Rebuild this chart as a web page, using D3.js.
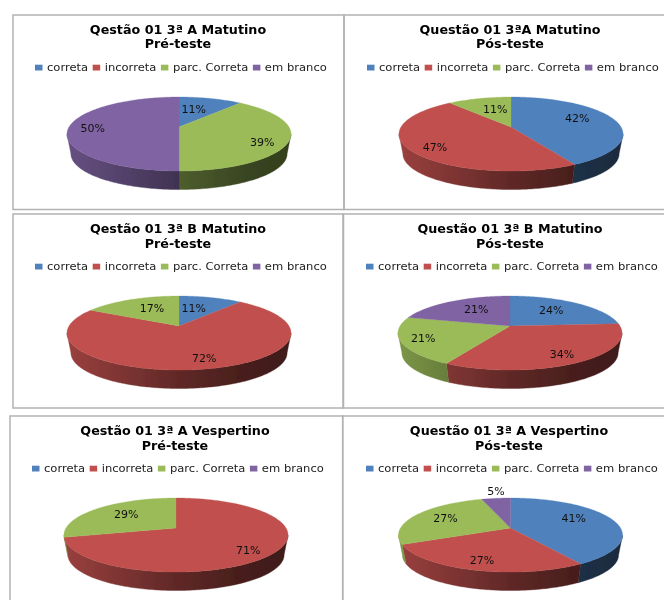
<!DOCTYPE html>
<html><head><meta charset="utf-8">
<script src="https://cdn.jsdelivr.net/npm/d3@7"></script>
<style>html,body{margin:0;padding:0;background:#fff;overflow:hidden}svg{display:block}text{font-family:"DejaVu Sans",sans-serif}</style>
</head><body><div id="chart"></div>
<script>
// ---- data ----
const categories = ["correta", "incorreta", "parc. Correta", "em branco"];
const colors = ["#4F81BD", "#C0504D", "#9BBB59", "#8064A2"];
const titles = ["Qestão 01 3ª A Matutino", "Questão 01 3ªA Matutino", "Qestão 01 3ª B Matutino", "Questão 01 3ª B Matutino", "Qestão 01 3ª A Vespertino", "Questão 01 3ª A Vespertino"];
const subtitles = ["Pré-teste", "Pós-teste", "Pré-teste", "Pós-teste", "Pré-teste", "Pós-teste"];
const values1 = [11, 0, 39, 50];
const values2 = [42, 47, 11, 0];
const values3 = [11, 72, 17, 0];
const values4 = [24, 34, 21, 21];
const values5 = [0, 71, 29, 0];
const values6 = [41, 27, 27, 5];
const allValues = [values1, values2, values3, values4, values5, values6];

// ---- layout (not data) ----
const frames = [[13,15,331,194.5],[344,15,340,194.5],[13,214,330.5,194],[343,214,340,194],[10,416,332.7,200],[342.7,416,340,200]];
const pieCentres = [[179,127],[511,127],[179,326],[510,326],[176,528],[510.5,528]];
const titleCentres = [178,510,178,510,175,509];
const titleY = [33.5,33.5,233,233,435,435];
const legendX = [35,367,35,366,32,366];
const legendY = [67.5,67.5,266.5,266.5,468.5,468.5];
const labelNudges = [
  [[-9,3],null,[5,6],[-7,1]],
  [[-8,-3],[-5,4],[8,3],null],
  [[-9,3],[8,3],[9,2],null],
  [[-8,1],[4,3.5],[-10,1],[10,1]],
  [null,[4,5],[8,0.5],null],
  [[-10,-3],[-3,3.6],[4,0],[-3.6,-14.6]]
];
const K = 0.19, RX = 110, RY = 35.7, LABEL_R = 0.72;
const BASE_SCALE = 0.965, BASE_DROP = 20;
const WALL_FROM = Math.acos(-K), WALL_TO = 2*Math.PI - WALL_FROM;
const TITLE_STRETCH = 1.06, LEGEND_STRETCH = 1.05;

const svg = d3.select("#chart").append("svg").attr("width",664).attr("height",600);
const defs = svg.append("defs");
defs.append("filter").attr("id","soft")
  .attr("filterUnits","userSpaceOnUse").attr("x",0).attr("y",0).attr("width",664).attr("height",600)
  .append("feGaussianBlur").attr("stdDeviation",0.6);
const root = svg.append("g").attr("filter","url(#soft)");
root.append("rect").attr("width",664).attr("height",600).attr("fill","#fff");

const shade = d3.scaleLinear().domain([-1,0,0.6,1]).range([0.8,0.5,0.37,0.33]);
const xU = d3.scaleLinear().domain([-1,1]).range([-RX,RX]);
const yU = d3.scaleLinear().domain([-1,1]).range([RY,-RY]);
const pie = d3.pie().sort(null).startAngle(0).endAngle(2*Math.PI);
const line = d3.line();

function project(t, r){
  const s = 1/(1+K*r*Math.cos(t));
  return {x:xU(r*Math.sin(t)*s), y:yU(r*Math.cos(t)*s), s};
}
function arcPts(a,b){
  const n = Math.max(2,Math.ceil((b-a)/(Math.PI/180)));
  return d3.range(n+1).map(i=>a+(b-a)*i/n);
}
function stretch(sel,f){
  sel.attr("textLength",sel.node().getComputedTextLength()*f).attr("lengthAdjust","spacingAndGlyphs");
  return sel;
}

frames.forEach(f=>{
  root.append("rect").attr("x",f[0]).attr("y",f[1]).attr("width",f[2]).attr("height",f[3])
    .attr("fill","none").attr("stroke","#b2b2b2").attr("stroke-width",1.5);
});

allValues.forEach((vals,p)=>{
  const [cx,cy] = pieCentres[p];
  const g = root.append("g");
  const tx = titleCentres[p];
  stretch(g.append("text").attr("x",tx).attr("y",titleY[p]).attr("text-anchor","middle")
    .attr("font-size",12).attr("font-weight","bold").attr("fill","#000").text(titles[p]),TITLE_STRETCH);
  stretch(g.append("text").attr("x",tx).attr("y",titleY[p]+14.8).attr("text-anchor","middle")
    .attr("font-size",12).attr("font-weight","bold").attr("fill","#000").text(subtitles[p]),TITLE_STRETCH);

  // legend, laid out as a flow
  let lx = legendX[p];
  categories.forEach((c,i)=>{
    g.append("rect").attr("x",lx).attr("y",legendY[p]-2.8).attr("width",7.5).attr("height",5.8).attr("fill",colors[i]);
    const t = g.append("text").attr("x",lx+12).attr("y",legendY[p]+3.8).attr("font-size",11).attr("fill","#222").text(c);
    const w = t.node().getComputedTextLength()*LEGEND_STRETCH;
    stretch(t,LEGEND_STRETCH);
    lx += 12 + w + 4.5;
  });

  const arcs = pie(vals).filter(d=>d.value>0);
  const piePt = g.append("g").attr("transform",`translate(${cx},${cy})`);

  // walls
  arcs.forEach(d=>{
    const a = Math.max(d.startAngle,WALL_FROM), b = Math.min(d.endAngle,WALL_TO);
    if(b<=a) return;
    const id = `w${p}_${d.index}`;
    const gr = defs.append("linearGradient").attr("id",id).attr("gradientUnits","userSpaceOnUse")
      .attr("x1",-RX-2).attr("x2",RX+2).attr("y1",0).attr("y2",0);
    shade.domain().forEach(v=>{
      const col = d3.rgb(colors[d.index]);
      const m = shade(v);
      gr.append("stop").attr("offset",(v+1)/2).attr("stop-color",d3.rgb(col.r*m,col.g*m,col.b*m).formatHex());
    });
    const ts = arcPts(a,b);
    const top = ts.map(t=>{const q=project(t,1);return [q.x,q.y];});
    const bot = ts.slice().reverse().map(t=>{const q=project(t,1);return [q.x*BASE_SCALE,q.y*BASE_SCALE+BASE_DROP];});
    piePt.append("path").attr("d",line(top.concat(bot))+"Z").attr("fill",`url(#${id})`)
      .attr("stroke",`url(#${id})`).attr("stroke-width",0.4);
  });
  // top faces
  arcs.forEach(d=>{
    const pts = arcPts(d.startAngle,d.endAngle).map(t=>{const q=project(t,1);return [q.x,q.y];});
    piePt.append("path").attr("d",line([[0,0]].concat(pts))+"Z").attr("fill",colors[d.index])
      .attr("stroke",colors[d.index]).attr("stroke-width",0.3);
  });
  // labels
  arcs.forEach(d=>{
    const q = project((d.startAngle+d.endAngle)/2,LABEL_R);
    const n = labelNudges[p][d.index]||[0,0];
    piePt.append("text").attr("x",q.x+n[0]).attr("y",q.y+n[1]+4).attr("text-anchor","middle")
      .attr("font-size",11).attr("fill","#111").text(d.value+"%");
  });
});
</script></body></html>
